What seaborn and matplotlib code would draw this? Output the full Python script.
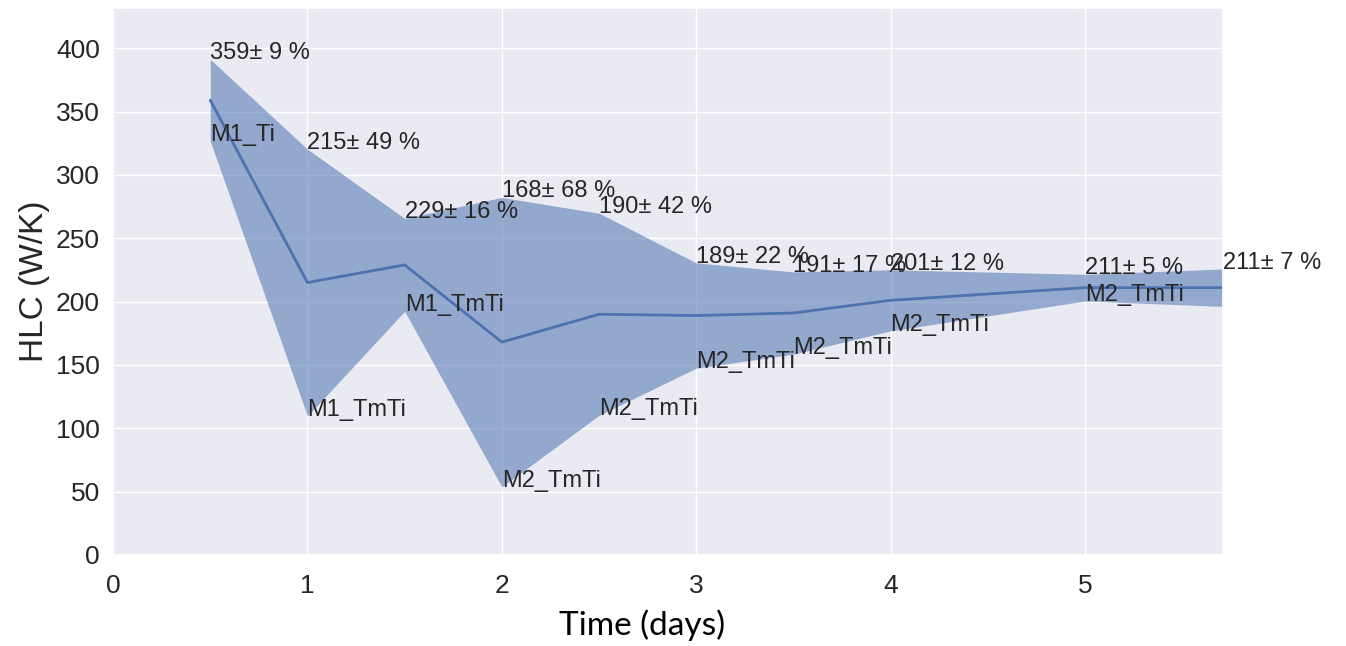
import matplotlib
matplotlib.use("Agg")
import matplotlib.pyplot as plt
import seaborn as sns
import numpy as np
import pandas as pd

# time (days), mean HLC (W/K) and relative spread (%)
days = [0.5, 1.0, 1.5, 2.0, 2.5, 3.0, 3.5, 4.0, 5.0, 5.71]
hlc_mean = [359, 215, 229, 168, 190, 189, 191, 201, 211, 211]
spread_pct = [9, 49, 16, 68, 42, 22, 17, 12, 5, 7]
best_model = ["M1_Ti", "M1_TmTi", "M1_TmTi", "M2_TmTi", "M2_TmTi",
              "M2_TmTi", "M2_TmTi", "M2_TmTi", "M2_TmTi", ""]

x_ticks = [0, 1, 2, 3, 4, 5]
y_ticks = [0, 50, 100, 150, 200, 250, 300, 350, 400]


def plot_hlc(df: pd.DataFrame) -> None:
    sns.set_theme(style="darkgrid")
    plt.rcParams["font.family"] = ["Liberation Sans", "DejaVu Sans"]

    fig, ax = plt.subplots(figsize=(13.46, 6.46), dpi=100)
    fig.subplots_adjust(left=0.084, right=0.9086, bottom=0.141, top=0.988)

    upper = df["hlc"] * (1 + df["pct"] / 100)
    lower = df["hlc"] * (1 - df["pct"] / 100)

    ax.fill_between(df["day"], lower, upper, color="#4C72B0", alpha=0.55, linewidth=0)
    sns.lineplot(data=df, x="day", y="hlc", ax=ax, color="#4C72B0", linewidth=2)

    for x, m, p, lo, hi, lab in zip(df["day"], df["hlc"], df["pct"], lower, upper, df["model"]):
        ax.text(x, hi, f"{m}\u00b1 {p} %", fontsize=17, color="#262626")
        if lab:
            ax.text(x, lo, lab, fontsize=17, color="#262626")

    ax.set_xlim(0, df["day"].iloc[-1])
    ax.set_ylim(0, 432)
    ax.set_xticks(x_ticks)
    ax.set_yticks(y_ticks)
    ax.tick_params(labelsize=19, colors="#262626")
    ax.tick_params(axis="x", pad=8)
    ax.set_xlabel("")
    ax.set_ylabel("HLC (W/K)", fontsize=24, color="#262626", labelpad=4)

    # x label sits a little left of the axes centre in the original
    fig.text(0.477, 0.017, "Time (days)", fontsize=24, ha="center", va="baseline",
             family=["Lato", "DejaVu Sans"], color="black")

    plt.savefig("out.png", dpi=100)


df = pd.DataFrame({"day": days, "hlc": hlc_mean, "pct": spread_pct, "model": best_model})
plot_hlc(df)
